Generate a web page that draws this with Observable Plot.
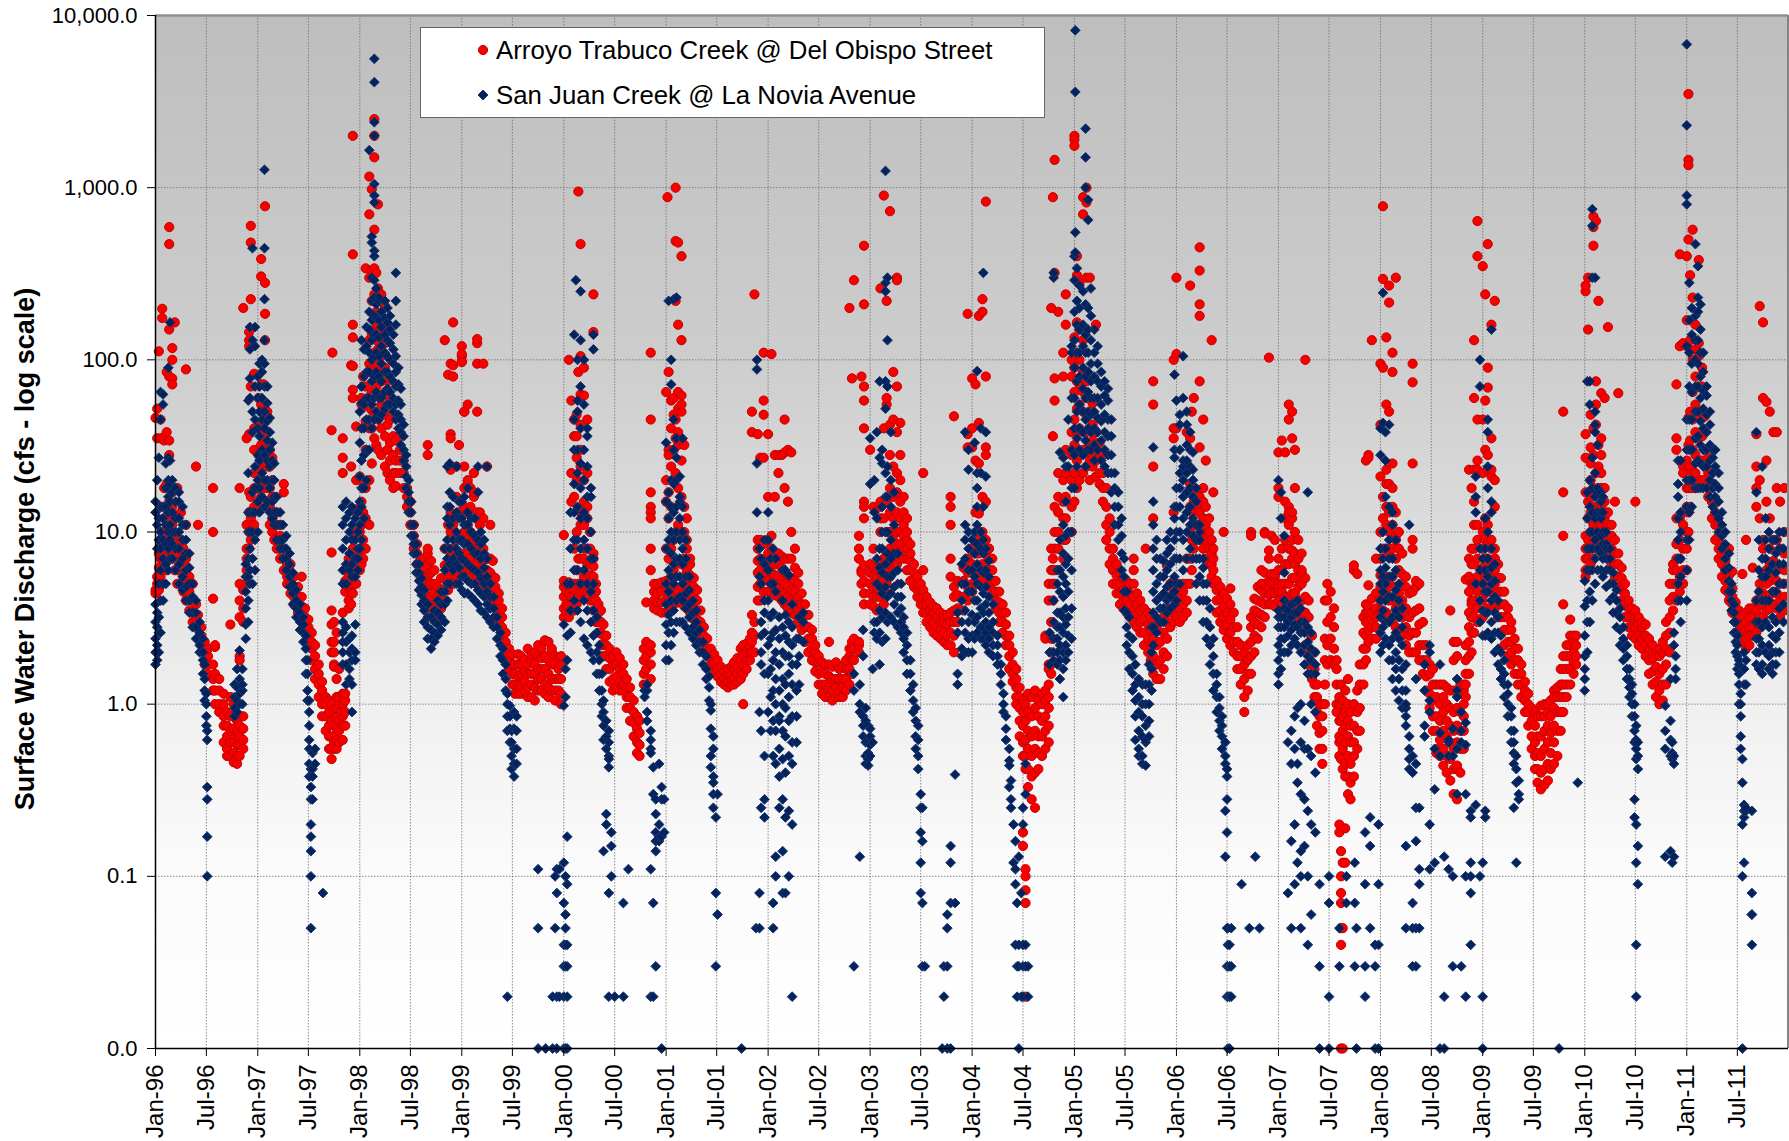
<!DOCTYPE html>
<html><head><meta charset="utf-8">
<script src="https://cdn.jsdelivr.net/npm/d3@7"></script>
<script src="https://cdn.jsdelivr.net/npm/@observablehq/plot@0.6"></script>
<style>
html,body{margin:0;padding:0;background:#fff;font-family:"Liberation Sans",Arial,sans-serif}
#wrap{position:relative;width:1789px;height:1141px;overflow:hidden}
#legend{position:absolute;left:420px;top:27px;width:623px;height:89px;background:#fff;border:1.5px solid #666;box-sizing:content-box;font-size:25.8px;color:#000}
#legend .row{position:absolute;left:55px;white-space:pre;display:flex;align-items:center;height:30px}
#legend svg{width:14px;height:14px;margin-right:6px;overflow:visible}
</style></head><body><div id="wrap"><div id="chart"></div><div id="legend"></div></div>
<script>
const seriesNames = ["Arroyo Trabuco Creek @ Del Obispo Street","San Juan Creek @ La Novia Avenue"];
const yAxisTitle = "Surface Water Discharge (cfs - log scale)";
const yTicks = [0.01,0.1,1,10,100,1000,10000];
const xTickYears = [1996,1997,1998,1999,2000,2001,2002,2003,2004,2005,2006,2007,2008,2009,2010,2011];

// Each row: [month of the year (0-12), discharge readings in that column...]
const arroyo1996=[[0,4.4,4.6,46],[.2,4.5,5,5.5,52,35],[.4,4.6,5.2,6.2,7.5,112],[.6,5,5.5,7,8.5,45,35],[.8,5,6,7,10,14,198,175,35],[1,6,7.5,9,12,18,34],[1.3,6,8,10,14,19,38,85],[1.6,7,9,12,15,19,28,590,470,150,80,34],[2,7,8,11,14,17,117,100,78,72],[2.3,6,7.5,9,12,165,18],[2.6,5,6,7.5,9,18],[3,5,6,7,9,13],[3.3,4.5,5.5,6.5,8],[3.6,4,4.8,5.5,7,88,11],[4,3.5,4,4.5,5.5],[4.4,3,3.4,4,5],[4.8,2.8,3.2,3.8,24],[5,2.4,2.8,3.3,11],[5.4,2.2,2.5,2.8],[5.8,1.7,2,2.3],[6.2,1.5,1.7,1.9,2.1],[6.8,1.2,1.4,1.7,18,10,4.1],[7,1,1.2,1.5,2.15,2.2],[7.5,.9,1,1.2,1.4],[8,.75,.85,1,1.15,.6],[8.4,.55,.65,.75,.9,.5],[8.8,.5,.6,.7,.85,1.1,2.9],[9.2,.46,.52,.6,.72,.85,1],[9.6,.45,.5,.58,.65,.8,.7],[9.9,.5,.58,.65,.75,1.9,1.8,18,5,4,3.2],[10.3,.55,.62,.72,.85,4.6,3.6,3,200],[10.7,5,6,7,8,11,35,],[11,8,10,13,17,120,130,145,37],[11.2,600,480,9,12,16,70,225],[11.6,11,14,18,22,30,83,40]];
const arroyo1997=[[.1,14,18,22,28,40,60],[.4,16,20,26,32,42,55,72,385,305],[.7,18,24,30,40,50,72],[.85,25,34,44,780,280,185,130],[1.1,14,18,24,30,38,50],[1.4,11,14,18,24,30],[1.7,10,12,16,20,27],[2,9,11,13,16],[2.3,8,9,11,13],[2.7,7,8,9.5,11],[3.1,6,7,8,19,17],[3.5,5,5.5,6.5,7.5],[3.9,4.4,5,5.5,6.5],[4.3,3.8,4.2,4.8,5.5],[4.8,3.4,3.8,4.2,4.8],[5.2,3,3.3,3.7,4.2,5.5],[5.6,2.6,2.9,3.2,3.6],[6,2.3,2.5,2.8,3.1],[6.4,1.8,2.1,2.3,2.6],[6.8,1.4,1.6,1.9,2.2],[7.2,1.1,1.3,1.5,1.7],[7.6,.85,1,1.2,1.35],[8,.7,.85,1,1.1],[8.4,.55,.65,.75,.9,1.05],[8.7,.48,.55,.65,.8,1,2,2.3,39,3.5,2.9,7.6],[9,.55,.6,.75,.9,1.7,2,2.3,1.65,3],[9.3,.55,.62,.72,.85,1.4,1.1,.95,2.6],[9.6,.6,.7,.8,1,1.1,1.6],[10,.62,.75,.85,1,1.15,35,27,22,3.4],[10.3,.75,.9,1.05,1.15,4.5,5.2,6],[10.7,3.6,4,4.8,5.5,6.2,7],[11,3.8,4.5,5,6,7,93,24],[11.2,4.4,5,6,8,67,135,160,2000,410,92,60],[11.6,5,6,7.5,10,13,41,20],[8.8,110]];
const arroyo1998=[[0,6,7.5,10,14,21],[.2,6.5,8,11,15,20,55,60],[.4,7,9,13,18,53,80],[.7,8,12,18,30,44,70,115,340],[1.1,11,20,40,60,95,130,1160,700,300],[1.4,25,40,65,90,140,220,980,51,330],[1.7,35,50,75,110,150,240,2500,2000,1500,570,340],[2,32,48,70,95,130,190,320],[2.2,30,45,62,85,115,160,800,260],[2.6,28,40,55,75,105,150,240],[3,24,36,48,65,90,125,205],[3.3,22,30,42,55,75,160],[3.6,20,26,33,45,60],[4,18,22,28,36],[4.3,18.5,22,26,34],[4.8,22,26,30,36],[5.2,18,22,26],[5.6,14,16,18],[6,11,13,15],[6.4,8,9.5,11],[6.8,6.5,7.5,8.5],[7.2,5.4,6,7],[7.6,4.6,5.2,6,7],[8,4.2,4.8,5.5,6.5,7.5,32,28,8],[8.4,3.6,4.2,5,5.8,6.8],[8.8,3.3,3.8,4.4,5,6],[9.2,3.3,3.8,4.2,4.8],[9.6,3.6,4,4.6,5.4],[10,4,4.6,5.4,6.4,8,130],[10.4,4.6,5.4,6.4,8,11,82],[10.7,5,6,7.5,10,13,95,37,35,23],[11,5,6.5,8,11,165,93,80],[11.4,5.5,7,9,12,16,24],[11.7,5.8,7.5,9.5,13,32]];
const arroyo1999=[[0,6,7,9,13,120,105,98,108,97],[.3,6,7.5,10,14,50,50,24,18],[.7,6,7.5,9,11,13,19,20,55],[1,6,7,8.5,10,14,18],[1.4,5.5,6.5,8,9.5,16,22,17],[1.8,5.5,6.5,7.5,9,13,125,132,95,50],[2.2,5,6,7,8.5,11,13],[2.6,5,5.8,6.8,8,12,95],[3,4.6,5.2,6,7,24],[3.4,4.2,5,5.8,7,11],[3.7,4,4.8,5.5,6.8],[4,3.8,4.2,4.8,5.4],[4.4,3,3.5,4,4.4],[4.8,2.4,2.8,3.2,3.6],[5.2,2,2.3,2.6],[5.6,1.6,1.8,2.1],[6,1.3,1.5,1.7,1.95],[6.3,1.15,1.3,1.5,1.7],[6.7,1.15,1.3,1.45,1.7,1.95],[7,1.15,1.3,1.5,1.7,1.9],[7.4,1.2,1.35,1.55,1.8],[7.8,1.1,1.25,1.5,1.7,2.1],[8.2,1.1,1.3,1.5,1.8,1.95],[8.6,1.05,1.25,1.5,1.7,2],[9,1.2,1.4,1.6,1.9,2.2],[9.4,1.2,1.4,1.6,1.85,2.1],[9.8,1.15,1.3,1.6,1.9,2.35],[10.2,1.1,1.25,1.5,1.8,2.3],[10.6,1.2,1.4,1.7,2,2.1],[11,1.05,1.2,1.4,1.7,1.9],[11.4,1.2,1.4,1.6,1.85],[11.7,1,1.15,1.4,1.7,1.9]];
const arroyo2000=[[0,3.2,3.6,4.2,4.8,5.2,9.6],[.3,3.4,3.8,4.5,5],[.6,3.2,3.7,4.4,5.1,100],[.9,3.5,4.2,5,15,22,58],[1.2,3.5,4.2,5,8,16,36,45],[1.5,3.8,4.5,6,10,20,27,36,48],[1.7,4.2,5,7,85,950],[2,4.5,5,7,11,13,24,30,42,63,470,105],[2.4,4.5,5.5,7,8,11,15,20,62,90],[2.8,4.5,5.5,6.5,8,12,14,22,45],[3.1,4,4.8,5.6,6.5,8,10],[3.5,3.5,4,4.8,5.5,6.3,7.5,7,240,145],[3.8,3,3.5,4,4.5,5],[4.1,2.6,3,3.4,3.8],[4.4,2.2,2.6,3,3.5],[4.7,1.9,2.2,2.5,2.9],[5,1.6,1.9,2.2,2.5],[5.4,1.35,1.6,1.85,2.1],[5.8,1.2,1.4,1.7,1.9],[6.2,1.25,1.45,1.7,2],[6.6,1.2,1.35,1.6,1.85],[7,1.2,1.3,1.5,1.7],[7.4,.95,1.1,1.25,1.4],[7.8,.8,.95,1.1,1.25],[8.2,.65,.78,.9,1.05],[8.6,.52,.6,.72,.85],[8.9,.5,.58,.68,.8],[9.4,1.3,1.5,1.8,2.1],[9.7,1.3,1.6,1.9,2.3,3.9],[10.2,1.4,1.7,2,2.2,110,45,17,14,13,12,8,6],[10.6,3.6,4,4.5,5],[11,3.5,3.9,4.4,5],[11.5,3.4,3.9,4.5,5.1]];
const arroyo2001=[[0,3.4,4,4.6,5.2,8,15,20,65],[.15,880],[.3,3.5,4.2,5,7,12,17,30,28,85],[.6,3.6,4.3,5.5,8,14,24,40,58],[.9,3.8,4.5,6,9,20,30,48,60],[1.1,3.9,4.6,6.5,10,22,35,45,220,1000,490],[1.4,3.9,4.6,6.8,11,18,32,38,52,480,160,65],[1.8,3.9,4.8,6.5,10,16,26,34,50,400,130,62,55],[2.2,3.7,4.4,5.5,7,10,14,32],[2.5,3.6,4.2,5,6,8,12,9],[2.9,3.4,4,4.8,5.6,6.5,7],[3.3,3.1,3.6,4.2,4.8,5.4],[3.7,2.7,3.1,3.5,4,4.6],[4.1,2.4,2.7,3,3.5],[4.5,2.2,2.5,2.8],[4.9,1.9,2.1,2.4],[5.3,1.7,1.9,2.1],[5.7,1.55,1.75,1.95],[6.1,1.45,1.6,1.8],[6.5,1.35,1.5,1.65],[6.9,1.3,1.42,1.55],[7.3,1.25,1.35,1.5,1.6],[7.7,1.3,1.4,1.5,1.65],[8,1.3,1.42,1.6,1.75],[8.4,1.35,1.5,1.65,1.85],[8.8,1.4,1.55,1.8,2.1],[9.1,1.5,1.7,1.95,2.2,1],[9.5,1.6,1.8,2,2.25],[9.9,1.8,2,2.2,2.4],[10.1,2,2.3,2.6,3.3,50,38],[10.4,2,2.5,3,240],[10.8,4,4.8,5.8,6.8,8,9,37],[11.1,4,5,6,7,9,27],[11.5,4.5,5.5,6.8,8.5,58,48,27,110]];
const arroyo2002=[[0,4.5,5.2,6.2,7.5,9,37,16],[.4,4.4,5,5.8,6.8,8,9.5,108],[.8,4.3,5,5.6,6.5,7.5,16,28],[1.2,4.2,4.8,5.5,6.5,7.5,22,28],[1.6,4,4.5,5.2,6.2,7.2,28],[2,3.8,4.4,5,5.8,7,45,18,29],[2.4,3.6,4.2,4.8,5.6,7,15,30],[2.8,3.4,4,4.6,5.4,7,10,29],[3.2,3.3,3.9,4.5,5.2,6.2,8],[3.6,3,3.5,4.2,5,5.8],[4,2.7,3.2,3.8,4.4],[4.4,2.3,2.8,3.3,3.8],[4.8,2,2.4,2.8,3.3],[5.2,1.8,2.1,2.4,2.7],[5.6,1.55,1.75,2,2.2],[6,1.3,1.5,1.75,1.9],[6.4,1.15,1.3,1.55,1.75],[6.8,1.1,1.3,1.5,1.7],[7.2,1.1,1.25,1.45,1.7,2.3],[7.6,1.05,1.2,1.4,1.65],[8,1.1,1.25,1.4,1.7,1.75],[8.4,1.1,1.2,1.4,1.6],[8.8,1.1,1.25,1.4,1.65],[9.2,1.2,1.4,1.6,1.8],[9.6,1.3,1.6,1.9,2.1,200],[9.9,1.5,1.8,2.1,2.3,78],[10.1,1.8,2.1,2.4,290],[10.7,2,2.2,2.3,9.5,7,8],[11,5,6,80,5.8],[11.3,3.8,4.4,5.2,6.4,70,58,40,15,14,12,460,210]];
const arroyo2003=[[0,3.8,4.4,5,5.8,6.5,30],[.4,3.7,4.2,4.8,5.6,6.3,8,14],[.8,3.5,4.2,4.8,5.5,6.2],[1.2,3.6,4.2,5,5.8,6.3,12,15,14,10,260],[1.6,3.8,4.4,5.2,6,7,40,12,900],[2,4.4,5,6,7,10,15,55,60,220],[2.4,5.5,6.5,8,10,13,18,28,42,730],[2.8,6,7.5,9,12,16,24,85,45],[3.2,6.5,8,10,13,17,22,38,70,300,290],[3.6,7,8.5,10,12,15,20,28,43],[4,7,8,9.5,11,13,16],[4.4,6,7,8,9,10,12],[4.8,5.2,6,6.8,7.5,8.5],[5.2,4.8,5.2,5.8,6.5],[5.6,4.2,4.6,5,5.5],[6,3.8,4.2,4.6,5],[6.3,3.4,3.8,4.2,4.6,22,6],[6.7,3,3.4,3.8,4.2],[7.1,2.8,3.1,3.5,3.9],[7.5,2.6,3,3.4,3.7],[7.9,2.5,2.8,3.2,3.6],[8.3,2.4,2.7,3,3.4],[8.7,2.3,2.6,3,3.3],[9.1,2.2,2.5,2.9,3.3],[9.5,2.2,2.6,3,3.4,16,14,11,5.5,7],[9.9,2,2.5,3,3.5,4.2,4.8,47],[10.3,3,3.6,4.3,5.2],[11,3.5,4.2,5.2,6.2],[11.5,4,4.8,5.8,7,37,31,185]];
const arroyo2004=[[0,4.5,5,6.5,8,31,78,40],[.4,5,6,7.5,9,26,72,13],[.8,5,6,7.5,9,25,12.8,180,43],[1.2,5.5,6.5,8,10,16,225,190],[1.6,5,6,7.5,9,15,80,31,28,830],[2,5,6,7,8,8],[2.4,4.6,5.2,6,7],[2.8,3.6,4,4.5,5.2],[3.2,3,3.4,3.9,4.5],[3.6,2.6,3,3.4,3.8],[4,2.2,2.5,2.9,3.4],[4.4,1.6,1.9,2.2,2.5],[4.8,1.35,1.5,1.7,2],[5.2,1.1,1.25,1.4,1.6,1],[5.6,.65,.8,.95,1.1,1.25],[6,.5,.6,.75,.9,1.05,.18,.15],[6.3,.42,.5,.62,.8,1,.11,.1,.083,.07,.02],[6.6,.33,.42,.55,.7,.9,1.15],[7,.28,.38,.5,.65,.85,1.1],[7.4,.25,.4,.55,.7,.95,1.15,1.2],[7.8,.42,.52,.65,.85,1.05],[8.2,.5,.65,.8,1,1.15],[8.6,.55,.7,.85,1.05,1.2,2.5,2.4],[9,.6,.75,.95,1.1,1.7,1.6,1.3,4,5],[9.3,2,2.4,3,1.7,1.5,6,8,200],[9.5,4,5,6,7,2.4,880,36],[9.7,5,6,8,10,14,58,78,1450,320],[10.1,6,8,10,13,16,22,190],[10.7,7,9,12,15,20,80,110],[11,9,12,16,22,30,240,160],[11.7,10,14,20,28,38,80,100]];
const arroyo2005=[[0,15,22,32,45,65,90,135,2000,1900,1750],[.3,18,26,38,52,75,110,165,400,310],[.6,20,28,40,55,72,100,150,280],[1,22,30,38,50,65,85,130,880,700],[1.4,24,30,38,48,60,75,820,1000,300],[1.8,20,26,32,40,50,60,300],[2.2,24,28,34,42,56],[2.6,21,26,30,38,160],[3,19,22,27,33],[3.4,15,18,22,28],[3.8,9,11,14,18],[4.2,6.5,8,10,12],[4.6,5,6,7,8],[5,4.4,5,5.6,6.5],[5.4,3.8,4.4,5,5.8],[5.8,3.6,4,4.6,5.4],[6.2,3.4,4,4.6,5.2],[6.6,3.2,3.8,4.4,5],[7,3,3.5,4.2,5,7,6],[7.4,2.8,3.3,3.8,4.4],[7.8,2.6,3,3.5,4],[8.2,2.2,2.6,3.1,3.6],[8.4,8],[8.7,2,2.4,2.9,3.4],[9,1.8,2.2,2.7,3.2],[9.3,1.5,1.9,2.4,3,12,24,55,75],[9.7,1.4,1.7,2.2,2.8],[10.1,1.4,1.8,2.3,3],[10.5,1.6,2,2.6,3.2],[10.9,1.9,2.4,3,3.6,6.4],[11.3,2.8,3.4,4.2,5],[11.7,3,3.6,4.5,5.2,100,40,35,13]];
const arroyo2006=[[0,3.2,3.8,4.4,5,300,108,40],[.4,3,3.6,4.2,4.8],[.8,3.2,3.8,4.5,5],[1.2,3.4,4,5,7,38,25],[1.6,5,7,10,14,270,35,19],[1.8,6,9,13,18,50],[2.1,8,11,15,18,60],[2.5,9,11,14,17],[2.8,9,11,13,16,450,330,210,180,75,31],[3.2,8,10,12,15,18,45],[3.5,7,9,11,14,26],[3.9,6.5,8,10,12],[4.2,5.5,6.5,7.5,9,130],[4.4,5,6,7,8,17],[4.8,3.4,4,4.6,5.2],[5.2,3,3.5,4.1,4.8],[5.6,2.7,3.2,3.7,4.4,10],[6,2.4,2.9,3.4,4.1],[6.4,2.2,2.6,3.1,3.8,4.7],[6.8,2,2.3,2.8,3.4],[7.2,1.6,1.9,2.3,2.8],[7.6,1.3,1.6,1.9,2.2],[8,.9,1.1,1.4,1.7,2],[8.4,1.2,1.5,1.8,2.2],[8.8,1.5,1.9,2.3,2.8,3.2,10,9.5],[9.2,2,2.5,3,3.5,4.1],[9.6,2.4,2.9,3.4,4,4.8],[10,2.8,3.3,3.9,4.6,5,6],[10.4,3.2,3.8,4.4,5,5.8,10,9.8],[10.9,3.8,4.3,4.8,5.2,7.8,7,103],[11.2,3.8,4.4,5,5.7,9.5],[11.6,3.7,4.4,5,5.5,9,5.7]];
const arroyo2007=[[0,4,4.5,5,6,7,29,18,16],[.4,3.8,4.5,5,6,8,34],[.8,3.5,4.2,5,6.5,9,12,29,15],[1.2,3.4,4,5,6.5,8,11,14,13,55,45],[1.6,3.6,4.4,5.4,7,9,12,13,7.8,50,35],[2,3.6,4.4,5.4,6.5,7.5,10,30,18],[2.4,3.2,4,4.8,6,7,9,7],[2.8,2.8,3.4,4,5,5.8,7.5,6],[3.2,2.2,2.8,3.4,4.2,5.4,100],[3.6,1.7,2.1,2.6,3.2,4],[4,1.4,1.7,2,2.5],[4.3,1.1,1.3,1.6,2],[4.6,.75,.9,1.1,1.3],[4.9,.55,.68,.85,1],[5.2,.45,.55,.7,.85,1],[5.5,1,1.3,1.8,2.4,4],[5.8,1.7,2.2,3,4,5],[6.2,1.8,2.4,3.2,4.5],[6.6,1.7,2.1,2.8,3.6],[6.9,1.3,1.6,1.8,1,.9],[7.2,.5,.65,.8,1,1.1,.6,.2,.18],[7.4,.48,.62,.8,1,1.3,.14,.1,.08,.07,.05,.04,.01],[7.6,.42,.55,.7,.85,1.05,.12,.05,.01],[7.9,.38,.45,.6,.75,.9,1.2,.19,.12],[8.2,.3,.38,.5,.65,.8,1,1.4],[8.5,.28,.35,.45,.6,.75,.9],[8.9,.38,.5,.6,.75,1,6,6.4],[9.3,.55,.7,.9,1.2,5.7],[9.6,.7,.95,1.3,1.7],[10,1.3,1.7,2.1,2.6,3.2],[10.3,1.8,2.1,2.5,3,3.4,3.8,26],[10.6,2.3,2.7,3.1,3.4,3.7,28,27,4.9],[11,2.4,2.8,3.1,3.4,4.1,130],[11.5,2.4,2.8,3.2,3.6,4.4,7]];
const arroyo2008=[[0,3.5,4,4.8,5.6,7,10,95,42,21],[.3,3.5,4.5,5.5,8,12,90,780,16,295],[.7,3.4,4.5,5.5,8,11,14,135,55,23,19],[1,3.2,4,5,7.5,10,13,50,215,270,19],[1.4,3,4,5.5,8,11,14,110,85,25,18],[1.8,2.8,3.6,4.8,7,9.5,13,9,300],[2.2,2.6,3.4,4.4,6,8,10],[2.6,2.5,3.2,4,5,5.7,7.5],[3,2.2,2.8,3.6,4.8,5.5],[3.4,2,2.5,3.2,4.4],[3.8,2,2.6,3.4,4.5,9,8,95,74,25],[4.2,2,2.6,3.5,4.8,5.2],[4.6,1.8,2.2,2.9,3.6,5],[5,1.5,1.8,2.2,3],[5.4,1.2,1.45,1.8,2.2],[5.8,.95,1.15,1.5,1.7],[6.2,.7,.85,1.05,1.3,1.6],[6.6,.55,.7,.85,1.1,1.3,.52],[7,.5,.62,.8,1,1.3],[7.4,.44,.55,.7,.9,1.1,1.3],[7.8,.4,.5,.65,.8,1,1.25],[8.2,.36,.48,.6,.75,.95,1.2,3.5],[8.6,.3,.42,.55,.7,.9,1.2,1.8,2.3],[9,.28,.42,.6,.75,.95,1.2,2.3,1.9,.44],[9.4,.4,.55,.7,.9,1.15,1.3],[9.8,.55,.7,.85,1,1.2,1.3],[10,1.1,1.3,1.5,1.8,2.2,5.3],[10.4,1.5,1.9,2.3,2.8,3.4,4.5,5.5,7,23],[10.7,2,2.6,3.2,4,5,6.5,8,18,3.8,3.2],[11,2.6,3.2,4,5,6.5,8,23,11,15,130,60],[11.4,3,3.6,4.5,5.5,7,9,11,26,23,640,400,45]];
const arroyo2009=[[0,3.2,4,5,6.2,8,10,22,45,350],[.3,3.5,4.4,5.5,7,9,12,30,240,58],[.6,3.6,4.6,5.6,7,8.5,11,28,90,23,470,69],[1,3.6,4.5,5.4,6.5,8,9,21,23,35,160],[1.4,3.6,4.3,5,6,7,8,7,20,14,220],[1.8,3.2,3.8,4.5,5.4,6.5],[2.2,2.6,3.2,3.8,4.5,5.4],[2.6,2.2,2.7,3.2,3.8,4.5],[3,1.9,2.3,2.7,3.2,3.6],[3.4,1.7,2,2.3,2.7,3],[3.8,1.5,1.8,2.1,2.4],[4.2,1.3,1.5,1.8,2.1],[4.6,1.1,1.3,1.5,1.7],[5,.9,1.05,1.2,1.35],[5.4,.75,.9,1,1.15],[5.8,.55,.65,.8,.95],[6.2,.42,.5,.6,.75,.9],[6.5,.35,.42,.52,.65,.85],[6.9,.32,.4,.5,.65,.85,.98],[7.3,.34,.42,.55,.7,.85,1],[7.7,.36,.45,.6,.75,.9,1],[8,.42,.52,.68,.85,1.05],[8.4,.45,.6,.75,.95,1.2,1.1],[8.8,.5,.7,.9,1.1,1.25],[9.2,.7,.9,1.1,1.3,1.6],[9.5,.9,1.1,1.3,1.6,1.9,50,17,9.5,3.8],[9.9,1.1,1.3,1.6,1.9,2.2],[10.3,1.3,1.6,1.9,2.2,2.5,3.1],[10.7,1.5,1.75,2,2.3,2.5],[11,1.7,1.9,2.2,2.5]];
const arroyo2010=[[.1,5.5,6,7,8,37,27,17,9.5,250,270],[.4,6,7,8,9,12,15,300,150],[.7,6.5,8,10,13,16,20,48,31,25],[1,7,9,11,14,18,40,28,680,590,460],[1.3,8,10,13,17,22,55,42,75,640],[1.6,8.5,11,14,18,24,32,220],[2,9,11,14,18,22,64,35,28],[2.4,8.5,10,12,15,18,60],[2.8,7.5,9,11,13,155],[3.2,6.5,8,9.5,11],[3.6,5.5,6.5,7.5,9,15],[4,4.8,5.5,6.5,7.5,64],[4.4,4,4.6,5.4,6.2],[4.8,3.2,3.8,4.4,5],[5.2,2.8,3.2,3.6,4],[5.6,2.5,2.8,3.2,3.6],[6,2.4,2.8,3.2,3.5,15],[6.4,2.2,2.5,2.9,3.2],[6.8,2.1,2.4,2.8,3],[7.2,1.9,2.2,2.5,2.9],[7.6,1.5,1.8,2.1,2.4],[8,1.3,1.55,1.85,2.2],[8.4,1.1,1.35,1.65,2],[8.8,1,1.2,1.5,1.9,2.1],[9.2,1.05,1.3,1.6,2,2.3],[9.6,1.3,1.7,2.1,2.5,3],[10,2,2.6,3.2,4,5],[10.4,3.5,4.2,5,6,6.5],[10.8,4,5,6,7,8.5,72,35,30,12],[11.2,4.5,5.5,7,9,12,410,120],[11.6,5,6,8,11,13,24,125,22]];
const arroyo2011=[[0,6,8,10,14,18,26,120,400,170],[.2,10,13,18,24,32,46,500,3500,1450,1350],[.4,14,18,24,34,50,310,130],[.7,18,22,30,45,65,100,570,230],[1,18,22,28,38,55,80,115,160],[1.4,20,26,35,48,70,105,380,125],[1.8,20,26,36,50,70,90],[2.2,20,24,30,38,47],[2.6,16,18,22,27],[3,12,15,18,22,15],[3.4,9,11,13,15],[3.8,7,8,9.5,11],[4.2,5.5,6.5,7.5,8.5],[4.6,4.6,5.2,6,6.8],[5,4,4.4,5,5.6,8],[5.4,3.4,3.8,4.2,4.7,5.9],[5.8,3,3.3,3.6,3.9],[6.2,2.6,2.9,3.2,3.5],[6.6,2.3,2.6,2.9,3.3,5.7],[7,2.1,2.4,2.7,3,3.4,9],[7.4,2.2,2.5,2.8,3.2,3.6],[7.8,2.5,2.8,3.2,3.6,6.2],[8.2,2.6,3,3.5,4,18,14,37,24],[8.6,2.8,3.2,3.8,4.5,5,12,205,20],[9,3.2,3.8,4.4,5.2,8,9,60,165],[9.4,3.5,4.2,5,6,15,26,57],[9.8,3.6,4.3,5.2,6.5,8,50,12],[10.2,3.8,4.5,5.4,6.8,9,38],[10.6,3.6,4.4,5.2,6.4,9,18,38],[11,3.2,4,5,6.2,8,15],[11.5,3.5,4.2,5,6,7.5,10,18]];

const sanjuan1996=[[0,1.7,2,2.4,3,3.8,13,15],[.2,1.8,2.2,2.8,3.4,8,11,20],[.4,2,2.6,3.2,5,9,12,27],[.6,2.6,4,6,8,10,14,65,45],[.9,4,5,7,9,12,14,63,55],[1.2,5,6.5,8.5,11,14,18,25],[1.5,6,8,10,13,16,20,27,90],[1.7,7,9,11,15,19,26,165],[2,7,8.5,10,13,17,20],[2.4,6,8,10,12,15,18,],[2.8,5,6.5,8,10,12,15,17],[3.2,4.6,5.5,7,9,11,14],[3.6,4,4.8,6,7.5,9,11],[4,3.4,4,5,6.2,7.5],[4.4,2.8,3.4,4.2,5],[4.8,2.4,2.8,3.4,4],[5.2,2,2.2,2.6,3],[5.6,1.5,1.8,2,2.4],[5.8,1.05,1.2,1.4,1.7],[6,.75,.85,1,1.15],[6.1,.62,.7,.33,.28,.17,.1],[9.3,.85,.95,1.1,1.3],[9.6,.9,1.05,1.25,1.6],[9.9,1,1.15,1.4,2.05],[10.2,1,1.2,1.3,1.6],[10.6,2.4,2.9,3.6,4.5,5.5,6.5],[10.9,3,4,5.5,7,10,13,58,22],[11.1,5,6,8,10,13,60,78,155,115],[11.4,5,7,10,13,17,38,50,445,130],[11.7,6,9,13,18,24,45,70,120,155]];
const sanjuan1997=[[0,10,15,20,28,40,60,80],[.2,13,18,26,36,50,70,95],[.5,16,22,30,45,60,85,100],[.8,14,20,28,40,50,70,95,1270,445,225,130],[1.1,15,20,26,34,44,56,70],[1.4,13,18,24,30,38,46],[1.7,12,15,20,26,33],[2,11,13,16,20,25],[2.3,9,11,13,16],[2.7,8,9,11,13],[3,7,8,9,11],[3.4,6,7,8,9.5],[3.8,4.8,5.5,6.5,7.5],[4.2,3.8,4.4,5,5.8],[4.6,3.2,3.6,4,4.6],[5,2.7,3,3.4,3.8],[5.4,2.3,2.6,2.9,3.2],[5.7,1.5,1.8,2.1,2.5],[5.9,1.05,1.2,1.5,1.8],[6.1,.75,.9,1.05,.62,.55,.45,.38],[6.3,.42,.33,.28,.2,.17,.14,.1,.05],[6.5,.52,.42,.38,.28],[6.8,.45,.55],[7.7,.08],[10,14,11,8,6,5,3,2.6,2.3,2,1.7],[10.4,15,12,9,6.5,5,2.8,2.3,1.7,1.3],[10.8,13,10,7.5,6,2.4,2,1.6,1.4],[11.1,14,11,9,6.5,5.5,2.5,2.1,1.8,1.3,.9],[11.5,12,9,7,5.5,2.9,2,1.8],[11.8,13,10,8,6,7]];
const sanjuan1998=[[0,8,11,15,21,33,50],[.2,9,14,18,26,40,56,70,130],[.5,12,18,28,40,55,80,115],[.8,20,30,45,60,85,120,155],[1.1,30,45,60,85,110,150,190,1650],[1.4,40,55,75,100,130,170,220,300,520,480],[1.7,45,60,80,105,140,180,230,290,5600,4100,2400,2000,1050,900,820,430,400],[2,50,65,85,110,140,175,210,260],[2.3,45,60,80,105,135,170,220,230],[2.6,48,60,75,95,120,155,190],[3,52,65,85,110,140,175,220],[3.3,55,68,85,105,130,165,200],[3.6,55,65,80,100,125,150,180],[4,50,60,75,95,115,140],[4.3,45,55,70,85,105,160,220,320],[4.6,40,48,58,72,90],[4.9,32,38,45,55,68],[5.2,26,30,36,42],[5.5,18,21,24,28],[5.8,13,15,17,20],[6.1,9.5,11,13,15],[6.4,7.5,8.5,9.5,11],[6.7,5.8,6.5,7.5,8.5],[7,4.6,5.2,5.8,6.5],[7.3,3.8,4.3,4.8,5.4],[7.6,3,3.5,4,4.6],[8,2.4,2.8,3.2,3.8],[8.4,2.1,2.4,2.7,3.2],[8.8,2.3,2.6,3,3.5],[9.2,2.5,2.9,3.4,4],[9.6,2.7,3.2,3.8,4.5],[10,3,3.8,4.5,6,8],[10.3,4,5,7,9,12,14,24],[10.6,5,6.5,8,11,14,17,25],[11,6,7,9,12,16],[11.4,5,6.5,8,10,13,24],[11.7,5,6.2,7.5,9,12,15]];
const sanjuan1999=[[0,4.6,5.5,7,9,12,15],[.3,4.4,5.5,6.8,8.5,11,16],[.7,4.4,5.2,6.5,8.5,11,18,13],[1.1,4.2,5,6.2,8,10,12],[1.5,4,5,6,7.5,9.5,12],[1.9,3.8,4.6,5.8,7.5,9,24,17],[2.3,3.5,4.4,5.4,7,8.5,10],[2.7,3.4,4.2,5,6.2,7.5,9],[3,3.2,3.8,4.5,5.5,7,24],[3.4,3,3.6,4.2,5],[3.8,2.8,3.2,3.6,4.2],[4.2,2.4,2.8,3.2],[4.6,1.9,2.2,2.6],[4.9,1.5,1.8,2.1],[5.2,1.2,1.4,1.7],[5.4,.85,1,1.15,.7,.02],[5.7,.6,.72,.85,.98],[5.9,.42,.5,.6,.7],[6.2,.38,.45,.55,.9,.72],[6.5,.45,.55,.7,.85],[9,.11,.05,.01],[9.9,.01],[10.7,.01,.02],[11,.05,.1],[11.2,.08,.11,.02,.01],[11.5,.11,.02]];
const sanjuan2000=[[0,.12,.07,.04,.03,.02,.01,2.9,.98],[.2,.06,.05,.04,.03,.01,.1,1.1,1.6],[.4,.17,.09,.04,.03,.02,.01,5,2.5,1.8],[.8,2.6,3.5,5,8,13],[1.2,4,6,9,13,19,30,45,140],[1.4,290],[1.6,3.5,6,9,14,22,30,50,100,58],[2,3,5,8,12,18,25,40,70,130,250],[2.4,2.4,4,6,9,13,20,30,55,100],[2.8,2.2,3.5,5,8,12,16,24,36,40],[3.2,2,3,4.5,7,10,16,18],[3.5,1.8,2.5,3.5,5,7,140,115],[3.9,1.5,2,2.6,3.2],[4.2,1.2,1.5,1.8,2.2],[4.5,.85,1,1.2,1.5],[4.7,.62,.75,.9,1.05,.14],[5,.55,.65,.8,.23,.2],[5.3,.5,.6,.7,.48,.43,.08,.02],[5.6,.1,.15,.18],[6,.02],[7,.02,.07],[7.6,.11],[9.5,1.2,1.1],[9.8,1.2,1.3,.9,.8],[10.2,.7,.62,.55,.52,.11,.02],[10.5,.43,.3,.07,.02],[10.8,.28,.23,.18,.14,.03,.16],[11.2,.45,.2,.16,.17],[11.5,.33,.28,.17,.01],[11.8,.18,.28]];
const sanjuan2001=[[0,1.8,2.2,2.9,3.8,5,8,33,15],[.3,1.8,2.6,3.3,4.5,6,9,12,17,220],[.6,2.2,3,4,5.5,7.5,10,14,20,100,72],[.9,2.6,3.5,5,6.5,9,13,19,30,225,45],[1.2,3,4,5.5,7,10,14,20,35,230,27],[1.6,3,4.2,5.5,7,9,12,15,21,16],[2,3,4,5,6.5,8,10,14,35],[2.4,2.8,3.6,4.4,5.5,7,9],[2.8,2.6,3.2,3.8,4.6,5.5],[3.2,2.4,2.8,3.4,4],[3.6,2.2,2.6,3,3.5],[4,2,2.3,2.7],[4.4,1.7,2,2.3],[4.8,1.4,1.6,1.9],[5.1,1.05,1.25,1.45],[5.3,.92,1,.72,.5,.43],[5.6,.65,.55,.38,.35,.3,.25],[5.9,.08,.03,.22],[6.1,.3,.06],[8.9,.01],[10.6,.05],[10.7,100,88,25,13],[11,.08,.05,8,5.5,.9],[11.2,3,2.5,2,1.7,.25,7,5,.7],[11.6,4,3.4,2.6,1.5,.5,.28,.22,6.5,9]];
const sanjuan2002=[[0,.9,1.5,2.2,4,6,9,13],[.3,.7,1.1,1.6,2.4,3.2,5,7],[.6,.5,.8,1.2,1.8,2.6,3.4,5,8,.07,.05],[.9,.45,.7,1,1.4,2,2.7,4.5,7,.13,.1],[1.3,.38,.55,.85,1.2,1.7,2.4,3.2,.25,.8],[1.7,.28,.48,.7,1,1.4,2,2.8,4,6,.14,.08],[2.1,.22,.4,.65,.95,1.3,1.9,2.5,3.3,6,.08],[2.5,.5,.8,1.1,1.5,1.9,2.3,3,5.6,.1,.24],[2.9,.45,.6,.85,1.3,1.7,2.2,2.8,3.8,.02,.2],[3.4,.6,.85,1.2,1.7,2.4],[3.7,1.3,1.9,2.4,3.2],[4.2,2.3,3,3.4],[10.1,1.5,1.2,.03],[10.8,1.3,1,.9,.13],[11.2,2.7,1.9,.85,.75,.65],[11.5,.95,.8,.6,.5,.45],[11.8,.75,.6,.52,.48,.44]];
const sanjuan2003=[[0,.5,.58,.65,.72,35,19],[.3,1.6,.6],[.5,2.6,3,13,20],[.8,2.4,3,5,7,12,38],[1.1,2.6,3.5,4.8,6.2,8,75,27,1.7],[1.4,2.3,3.2,4.4,5.8,8,14,30,25,10],[1.8,2.4,3.4,4.8,6.5,10,16,22,75,52,1250,280,250],[2.1,3,4.2,5.5,7.5,10,16,24,70,300,130],[2.5,3.2,4.4,5.5,7,9,14,20,38],[2.9,3,3.8,4.8,5.8,7.5,11,17],[3.3,2.8,3.4,4.2,5,6,7.5],[3.7,2.6,3,3.6,4.2,5],[4,2,2.4,2.8,3.2],[4.4,1.5,1.8,2.2,2.6],[4.8,1.2,1.5,1.8],[5.1,.9,1.05,1.3],[5.4,.65,.8,.95,.55],[5.7,.42,.5,.62,.75],[6,.25,.3,.18,.12,.08],[6.2,.25,.16,.07,.03],[6.5,.03],[8.5,.01],[8.7,.03,.02],[9.1,.01,.03,.06,.05],[9.5,.07,.01,.15,.12],[10,.39,.07],[10.3,1.5,1.3,2.6,3.4],[10.8,3,4,5,6.5,2.1,1.9],[11.2,2,2.6,3.5,5,7,9,11,38],[11.6,2,2.4,3,4.5,6,8,10,23,30]];
const sanjuan2004=[[0,2,2.5,3.3,4.5,6,9],[.3,2.4,3,4,5.5,7.5,10,33],[.6,2.6,3.2,4,5,6.5,8.5,11,86,22,18,14],[1,2.4,2.8,3.6,4.8,6,8,10,22,40],[1.3,2.4,2.8,3.4,4.4,5.8,7.5,9,14,320],[1.6,2.2,2.6,3,3.8,4.8,6,8,21,38],[2,2,2.4,2.8,3.4,4.2,5.5,6.8],[2.5,1.9,2.2,2.6,3,3.8],[3,1.7,1.9,2.2,2.5],[3.4,1.3,1.5,1.7],[3.7,.9,1,1.15],[4,.62,.72,.85],[4.4,.47,.55,.44,.33],[4.6,.36,.28,.25],[4.9,.2,.12],[5.1,.04,.11,.09,.16],[5.3,.03,.02,.07],[5.5,.04,.03,.01,.13],[5.8,.02,.08],[6,.04,.03,.02,.2,.25],[6.3,.04,.03,.3,.45],[6.6,.03,.02],[9.1,1.7,2,2.6],[9.6,1.8,2,2.4,3,4,300,320],[10,1.7,2,2.4,2.8,3.4,5,6],[10.3,1.4,1.8,2.2,2.8,3.4,4.5,6,9,29],[10.7,1.1,1.6,2,2.6,3.2,4.2,5.5,7.5,11,27],[11,1.8,2.2,2.9,3.6,5,6.5,9.5,15,24],[11.3,2,2.5,3.2,4.5,7,10,24,45],[11.7,2.4,3.6,6,10,18,30,60,120,110]];
const sanjuan2005=[[0,18,28,40,60,90,130,190,290,400],[.1,8200,3600,550,420],[.3,24,35,50,75,110,160,220,340],[.6,30,40,55,80,110,150,200,270],[1,28,38,50,68,90,120,160,250],[1.3,24,34,45,60,80,110,140,210,2200,1500,1000],[1.6,30,40,50,65,85,110,150,200,850,650],[2,30,38,48,60,75,95,130,180,260],[2.4,26,32,40,50,60,80,110,150],[2.8,30,38,46,60,75,95,120],[3.2,26,34,44,55,70,85],[3.6,24,30,38,48,62,75],[4,22,28,36,45,58,68],[4.4,17,22,28,36,45],[4.8,11,14,18,22],[5.2,9,11,14,17],[5.6,6,7.5,9.5,12],[5.9,3.5,4.5,5.5,7],[6.2,2.2,2.8,3.4,4.5],[6.5,1.6,2,2.5,3.2],[6.9,1.2,1.5,1.9,2.4],[7.2,.85,1.05,1.3,1.7,.62],[7.6,.7,.9,1.1,1.4,.5,.55],[8,.65,.85,1,1.3,.45,.5],[8.4,.6,.75,1,1.3,.44,.62],[8.8,.8,1,1.3,1.7,.65],[9.1,1.2,1.6,2,2.8],[9.3,2.2,2.8,3.4,4.5,6,8,11,15,31],[9.7,2.6,3.2,4,5,7,9],[10.1,3,3.6,4.2,5.5,7],[10.5,3,3.6,4.4,5.5,6.8],[10.9,3.4,4,4.8,6,7.5,9],[11.3,3.6,4.2,5,6.5,8,10],[11.8,3.8,4.5,5.5,7,9,12,14,27,30,82]];
const sanjuan2006=[[0,4,5,7,10,14,18,58],[.4,5,7,10,14,18,22,30,48,42],[.8,6,9,12,16,20,24,26,60,105],[1.2,7,10,13,17,22,26,32,50,42],[1.6,8,11,14,18,24,30,38],[2,7,9.5,12,16,20,23,29,20],[2.4,5,7,9,11,15,18],[2.8,4,5.5,7,9,10,11],[3.2,3,4,5,6.2,7],[3.6,2.4,3,4,5],[4,1.7,2.2,2.8,3.6],[4.4,1.2,1.5,1.9,2.4],[4.8,.9,1.1,1.3,1.5],[5.1,.7,.8,.95,1.1],[5.4,.55,.65,.75,.85],[5.8,.45,.5,.6,.24,.13],[6,.38,.42,.28,.18,.05,.03,.02],[6.1,.04,.03,.02,.01,.05],[6.3,.04,.03,.02,.01,.02],[6.5,.05,.03,.02],[7.7,.09],[8.6,.05],[9.8,.05],[9.3,.13]];
const sanjuan2007=[[0,1.3,1.5,1.8,2.2,2.8,3.2,3.5,20],[.3,1.6,2,2.4,2.8,3.2,17,12],[.7,2,2.4,2.8,3.2,3.6,5.8,9.5,4],[1.1,2,2.5,3,3.5,.6,.08],[1.5,2.2,2.7,3.2,3.8,.7,.45,.16,.05],[1.9,2.4,2.9,3.4,3.9,.85,.55,.2,.09],[2.3,2.2,2.8,3.4,4,.95,.45,.35,.12],[2.7,2,2.6,3,3.6,1,.6,.3,.14,.1,.05],[3.1,1.7,2.2,2.6,3,.8,.55,.28,.15],[3.5,1.5,1.9,2.3,2.8,17,.55,.24,.1,.04],[3.9,1.5,1.8,2.1,2.6,1,.5,.2,.06],[4.4,1.5,1.7,2,.9,.4,.18],[4.9,.01,.09,.03],[6,.01,.02,.1,.07],[7.2,.05,.03],[8,.1,.07],[9,.12,.07,.03],[9.2,.01,.05],[10.2,.18,.09,.02,.03],[10.8,.22,.15,.05],[11.4,.04,.01,.03],[11.8,.2,.09,.04,.01]];
const sanjuan2008=[[0,2,2.6,3.2,4,5,6,8,40,28],[.3,2.2,2.8,3.5,4.5,5.5,7,10,43,245],[.6,2.4,3,4,5,6.2,8,16,38,26],[1,1.8,2.2,3,4.2,5.5,7,9,14,42],[1.4,1.4,1.8,2.4,3.2,4.2,5.5,7,13,11],[1.8,1.2,1.6,2,2.6,3.5,4.6,6,9],[2.2,1.05,1.4,1.8,2.4,3.2,4,5],[2.6,.95,1.2,1.6,2.2,2.8,3.6],[3,.75,.85,.95,1,1.2,1.7,.15,.05],[3.4,.65,.55,.48,.42,11],[3.8,.5,.4,.07,.05,.03],[4.2,1.4,.45,.25,.16,.05,.03],[4.6,.25,.11,.09,.05],[5.2,1.7,1.2,.75,.65],[5.8,2.2,2,1.05,.9,.2,.11],[6.4,.55,.32,.12],[7,1.7,.68,.5,.01],[7.5,.13,.02,.01],[8,.6,.62,.5,.11],[8.5,.72,.5,.1,.03],[9,1.4,1.2,1.1,.55,.3],[9.5,.9,.7,.6,.03],[10,.78,.58,.3,.1,.02],[10.6,.1,.24,.22,.08,.04,.12],[11.2,21,16,13,5,.26],[11.7,100,70,3,4,6,8,.1]];
const sanjuan2009=[[0,2.5,3.5,5,7,.01,.02,.12],[.3,2.5,3.4,4.5,6,8,12,.22,.24],[.6,2.6,3.4,4.5,5.5,7,10,45,38,24,18],[1,2.4,3,4,5,6.2,8,15,13,150],[1.4,2,2.6,3.4,4.2,5.2,6.5],[1.8,1.7,2.1,2.6,3.2,4],[2.2,1.4,1.6,2,2.5],[2.6,1.1,1.3,1.5,1.8],[3,.85,1,1.15,1.3],[3.4,.6,.7,.85,.95],[3.7,.45,.52,.6,.7,.25],[4,.35,.42,.5,.12],[4.3,.28,.3,.36],[9,.01],[11.2,.35]];
const sanjuan2010=[[0,1.2,1.4,1.6,2.5,1.9,3.7,5.2],[.3,2,3,4,6,8,12,17,75],[.6,3,4.5,6,8,10,14,20,75,55],[.9,4,6,8,10,13,18,27,750,600,300],[1.2,5,7,9,12,16,22,42,50,38,300],[1.5,6,8,10,13,17,18,32],[1.9,6,7.5,9.5,12,15,17,13],[2.2,5.5,7,8.5,10,13,16],[2.6,4.8,6,7,8.5,10,8],[3,4,5,6,7,8],[3.4,3.4,4.2,5,5.8],[3.8,2.8,3.4,4,4.6],[4.2,2.2,2.7,3.2,3.6],[4.6,1.8,2.1,2.4,2.8],[5,1.4,1.6,1.9,2.2],[5.3,1.1,1.25,1.4,1.6],[5.6,.85,1,1.15,1.3],[5.9,.6,.7,.85,1,.28,.22],[6.1,.48,.55,.62,.75,.2,.12,.04,.02],[6.3,.42,.5,.6,.15,.09],[9.5,.98,.7,.55,.13],[10.1,1.4,.8,.62,.5,.14],[10.3,.6,.52,.48,.12],[10.5,2.6,2.2,.5,.45,.13],[10.7,1.9,1.6,1.4],[11,4,5,7,9,12,26,19,16],[11.3,3,4,5.5,7,10,13,26]];
const sanjuan2011=[[0,4,6,9,14,20,30,45,120,6800,2300,900,800],[.3,9,13,20,30,45,70,110,170,280],[.6,14,20,30,45,65,95,140,200],[1,18,25,35,50,70,100,130,180,470],[1.3,18,26,36,50,70,95,130,190,230,350],[1.6,18,25,32,44,60,80,110,150,210],[2,18,24,30,40,52,66,85,110],[2.4,18,24,30,38,48,62,70],[2.8,16,20,26,32,42,50],[3.1,14,18,22,27,30],[3.4,13,16,19,24,30],[3.8,10,12,15,18,22],[4.2,8,9.5,11,13],[4.6,6,7,8.5,10],[5,4.5,5.2,6.2,7.5],[5.3,3.5,4,4.5,5],[5.6,2.6,3,3.4,3.8],[5.8,2,2.3,2.6,3],[6,1.6,1.9,2.2,2.5],[6.2,1.3,1.5,1.7,1.8,1],[6.4,1,1.15,.85,.65,.55],[6.6,.48,.35,.2,.1,.01],[6.8,.22,.12,.26,.24,1.3,1.6,2],[7,.24,.25,1.3,1.8],[7.7,.06,.06,.04,.24,.08],[8.2,1.7,2,2.4,3,4,17,38],[8.5,1.6,2,2.4,3,4.5,6,9],[8.9,1.5,1.7,2.2,2.8,4,5.5,7,24],[9.3,2,3,4,5.5,7,9,12],[9.7,1.6,1.9,2.2,2.8,4,6,8,10],[10.1,1.5,1.7,2,2.5,3.2,4.5,6.5,9],[10.5,1.7,2,2.4,3,4.5,5.8,7.5,9],[10.9,2,2.6,3.6,5,6.5,8,10],[11.4,3,3.8,5,6.5,8,10]];

const arroyoYears=[arroyo1996,arroyo1997,arroyo1998,arroyo1999,arroyo2000,arroyo2001,arroyo2002,arroyo2003,arroyo2004,arroyo2005,arroyo2006,arroyo2007,arroyo2008,arroyo2009,arroyo2010,arroyo2011];
const sanjuanYears=[sanjuan1996,sanjuan1997,sanjuan1998,sanjuan1999,sanjuan2000,sanjuan2001,sanjuan2002,sanjuan2003,sanjuan2004,sanjuan2005,sanjuan2006,sanjuan2007,sanjuan2008,sanjuan2009,sanjuan2010,sanjuan2011];

function when(year,m){const mm=Math.floor(m);return new Date(Date.UTC(year,mm,1+Math.round((m-mm)*30)));}
function flatten(years){const out=[];years.forEach((rows,i)=>rows.forEach(r=>r.slice(1).forEach(v=>out.push({date:when(xTickYears[i],r[0]),value:v}))));return out;}
const arroyo=flatten(arroyoYears), sanjuan=flatten(sanjuanYears);
const xTicks=xTickYears.flatMap(y=>[new Date(Date.UTC(y,0,1)),new Date(Date.UTC(y,6,1))]);
const fmtX=d3.utcFormat("%b-%y"), fmtY=d3.format(",.1f");

const defs=()=>{const s=d3.create("svg:defs");const g=s.append("linearGradient").attr("id","bg").attr("x1",0).attr("x2",0).attr("y1",0).attr("y2",1);
 [[0,"#bebebe"],[.33,"#cdcdcd"],[.5,"#dcdcdc"],[.67,"#f0f0f0"],[.83,"#fbfbfb"],[1,"#ffffff"]].forEach(([o,c])=>g.append("stop").attr("offset",o).attr("stop-color",c));return s.node();};

const plot=Plot.plot({
 width:1789,height:1141,marginLeft:155,marginRight:1,marginTop:15,marginBottom:93,
 style:{fontFamily:"'Liberation Sans',Arial,sans-serif",background:"transparent",color:"#000"},
 x:{type:"utc",domain:[new Date(Date.UTC(1996,0,1)),new Date(Date.UTC(2011,11,31))]},
 y:{type:"log",domain:[0.01,10000]},
 marks:[
  defs,
  Plot.frame({fill:"url(#bg)",stroke:"none"}),
  Plot.gridX(xTicks,{stroke:"#6e6e6e",strokeOpacity:.8,strokeDasharray:"1.5 1.5"}),
  Plot.gridY(yTicks,{stroke:"#6e6e6e",strokeOpacity:.8,strokeDasharray:"1.5 1.5"}),
  Plot.dot(arroyo,{x:"date",y:"value",r:4.6,symbol:"circle",fill:"#f80000",stroke:"#c40000",strokeWidth:1}),
  Plot.dot(sanjuan,{x:"date",y:"value",r:4.4,symbol:"diamond2",fill:"#032260",stroke:"#1c3766",strokeWidth:1}),
  Plot.ruleY([10000],{stroke:"#8f8f8f",strokeWidth:2.5}),
  Plot.ruleX([new Date(Date.UTC(2011,11,31))],{stroke:"#858585",strokeWidth:3}),
  Plot.ruleX([new Date(Date.UTC(1996,0,1))],{stroke:"#000",strokeWidth:1.5}),
  Plot.ruleY([0.01],{stroke:"#000",strokeWidth:1.5}),
  Plot.axisY({ticks:yTicks,tickFormat:fmtY,tickSize:8,tickPadding:10,fontSize:22,label:null,stroke:"#000"}),
  Plot.axisX({ticks:xTicks,tickFormat:fmtX,tickRotate:-90,tickSize:8,tickPadding:8,fontSize:24,label:null,stroke:"#000"}),
  Plot.text([yAxisTitle],{frameAnchor:"left",textAnchor:"middle",rotate:-90,dx:-130,dy:17,fontSize:27,fontWeight:"bold",fill:"#000"})
 ]
});
document.getElementById("chart").appendChild(plot);

const lg=d3.select("#legend");
const mk=[`<circle cx="7" cy="7" r="4.6" fill="#f80000" stroke="#c40000"/>`,`<path d="M7 2 L12 7 L7 12 L2 7Z" fill="#032260" stroke="#1c3766"/>`];
seriesNames.forEach((n,i)=>{lg.append("div").attr("class","row").style("top",(i?52:7)+"px").html(`<svg viewBox="0 0 14 14">${mk[i]}</svg><span>${n}</span>`);});
</script></body></html>
